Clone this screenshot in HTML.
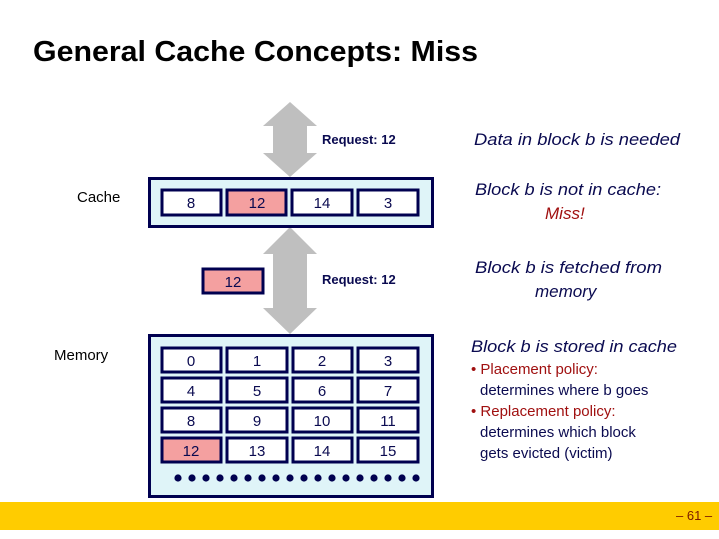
<!DOCTYPE html>
<html><head><meta charset="utf-8"><style>html,body{margin:0;padding:0;background:#fff}svg{display:block}</style></head><body>
<svg width="719" height="539" xmlns="http://www.w3.org/2000/svg" font-family="Liberation Sans, sans-serif">
<rect width="719" height="539" fill="#fff"/>
<text x="33" y="61" font-size="29" font-weight="bold" fill="#000" textLength="445" lengthAdjust="spacingAndGlyphs">General Cache Concepts: Miss</text>
<!-- arrows -->
<polygon points="290,102 317,126 307,126 307,153 317,153 290,177 263,153 273,153 273,126 263,126" fill="#bfbfbf"/>
<polygon points="290,227 317,254 307,254 307,308 317,308 290,334 263,308 273,308 273,254 263,254" fill="#bfbfbf"/>
<g font-size="13" font-weight="bold" fill="#0a0a50">
<text x="322" y="144">Request: 12</text>
<text x="322" y="284">Request: 12</text>
</g>
<g font-size="15" fill="#000">
<text x="77" y="202">Cache</text>
<text x="54" y="360">Memory</text>
</g>
<!-- cache -->
<rect x="149.5" y="178.5" width="283" height="48" fill="#dff4f8" stroke="#000050" stroke-width="3"/>
<g stroke="#000050" stroke-width="3">
<rect x="162" y="190" width="59" height="25" fill="#fff"/>
<rect x="227" y="190" width="59" height="25" fill="#f4a0a0"/>
<rect x="292" y="190" width="60" height="25" fill="#fff"/>
<rect x="358" y="190" width="60" height="25" fill="#fff"/>
<rect x="203" y="269" width="60" height="24" fill="#f4a0a0"/>
</g>
<g font-size="15" fill="#0a0a50" text-anchor="middle">
<text x="191" y="208">8</text><text x="257" y="208">12</text><text x="322" y="208">14</text><text x="388" y="208">3</text>
<text x="233" y="287">12</text>
</g>
<!-- memory -->
<rect x="149.5" y="335.5" width="283" height="161" fill="#dff4f8" stroke="#000050" stroke-width="3"/>
<g stroke="#000050" stroke-width="3" fill="#fff">
<rect x="162" y="348" width="59" height="24"/><rect x="227" y="348" width="60" height="24"/><rect x="293" y="348" width="59" height="24"/><rect x="358" y="348" width="60" height="24"/>
<rect x="162" y="378" width="59" height="24"/><rect x="227" y="378" width="60" height="24"/><rect x="293" y="378" width="59" height="24"/><rect x="358" y="378" width="60" height="24"/>
<rect x="162" y="408" width="59" height="24"/><rect x="227" y="408" width="60" height="24"/><rect x="293" y="408" width="59" height="24"/><rect x="358" y="408" width="60" height="24"/>
<rect x="162" y="438" width="59" height="24" fill="#f4a0a0"/><rect x="227" y="438" width="60" height="24"/><rect x="293" y="438" width="59" height="24"/><rect x="358" y="438" width="60" height="24"/>
</g>
<g font-size="15" fill="#0a0a50" text-anchor="middle">
<text x="191" y="366">0</text><text x="257" y="366">1</text><text x="322" y="366">2</text><text x="388" y="366">3</text>
<text x="191" y="396">4</text><text x="257" y="396">5</text><text x="322" y="396">6</text><text x="388" y="396">7</text>
<text x="191" y="426">8</text><text x="257" y="426">9</text><text x="322" y="426">10</text><text x="388" y="426">11</text>
<text x="191" y="456">12</text><text x="257" y="456">13</text><text x="322" y="456">14</text><text x="388" y="456">15</text>
</g>
<g fill="#000050">
<circle cx="178" cy="478" r="3.6"/><circle cx="192" cy="478" r="3.6"/><circle cx="206" cy="478" r="3.6"/><circle cx="220" cy="478" r="3.6"/><circle cx="234" cy="478" r="3.6"/><circle cx="248" cy="478" r="3.6"/><circle cx="262" cy="478" r="3.6"/><circle cx="276" cy="478" r="3.6"/><circle cx="290" cy="478" r="3.6"/><circle cx="304" cy="478" r="3.6"/><circle cx="318" cy="478" r="3.6"/><circle cx="332" cy="478" r="3.6"/><circle cx="346" cy="478" r="3.6"/><circle cx="360" cy="478" r="3.6"/><circle cx="374" cy="478" r="3.6"/><circle cx="388" cy="478" r="3.6"/><circle cx="402" cy="478" r="3.6"/><circle cx="416" cy="478" r="3.6"/>
</g>
<!-- right text -->
<g font-size="17" font-style="italic" fill="#0a0a50">
<text x="474" y="145" textLength="206" lengthAdjust="spacingAndGlyphs">Data in block b is needed</text>
<text x="475" y="195" textLength="186" lengthAdjust="spacingAndGlyphs">Block b is not in cache:</text>
<text x="545" y="219" fill="#a01010">Miss!</text>
<text x="475" y="273" textLength="187" lengthAdjust="spacingAndGlyphs">Block b is fetched from</text>
<text x="535" y="297">memory</text>
<text x="471" y="352" textLength="206" lengthAdjust="spacingAndGlyphs">Block b is stored in cache</text>
</g>
<g font-size="15" fill="#0a0a50">
<text x="471" y="374" fill="#a01010">• Placement policy:</text>
<text x="480" y="395">determines where b goes</text>
<text x="471" y="416" fill="#a01010">• Replacement policy:</text>
<text x="480" y="437">determines which block</text>
<text x="480" y="458">gets evicted (victim)</text>
</g>
<rect x="0" y="502" width="719" height="28" fill="#ffcc00"/>
<text x="676" y="520" font-size="13" fill="#7a1a00">– 61 –</text>
</svg>
</body></html>
